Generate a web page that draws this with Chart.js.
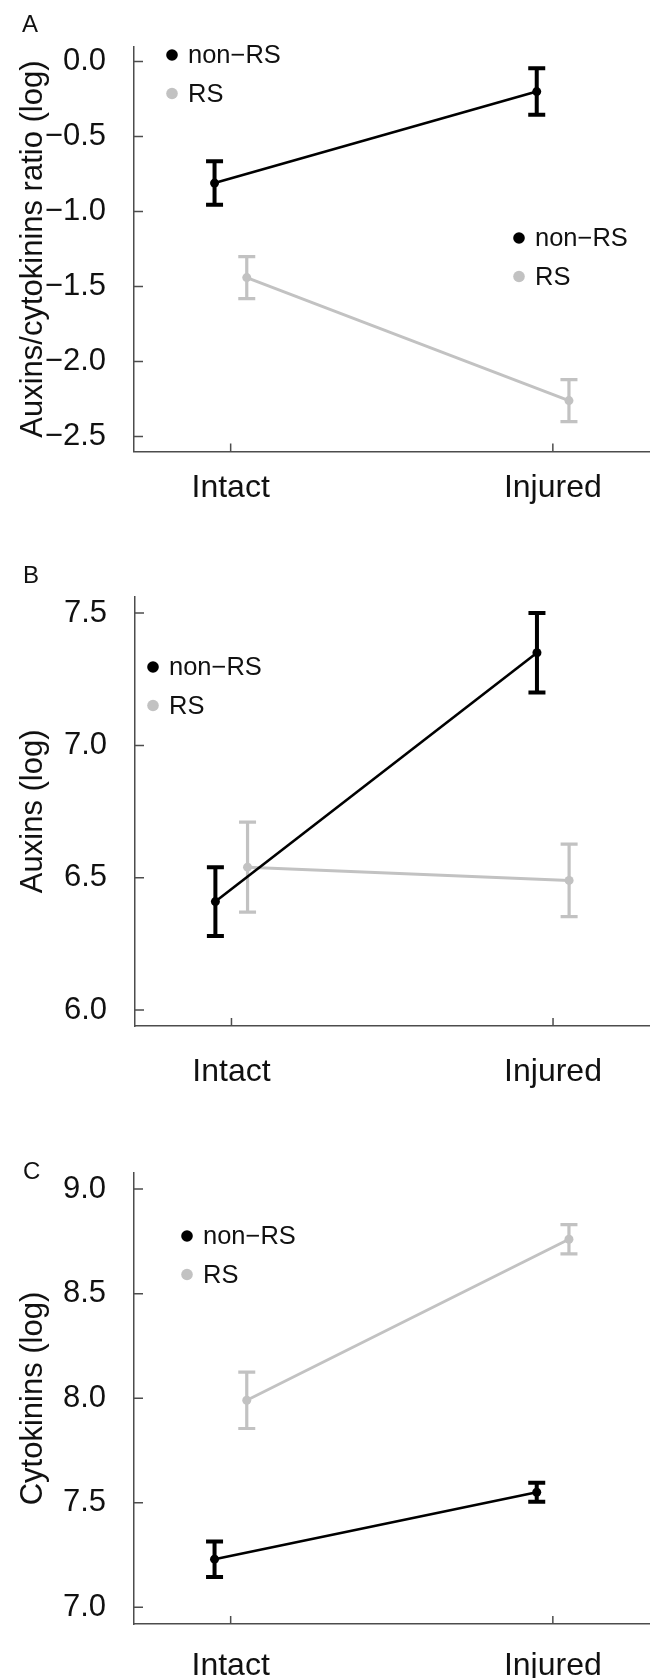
<!DOCTYPE html>
<html>
<head>
<meta charset="utf-8">
<script src="https://cdn.jsdelivr.net/npm/chart.js@4.4.1/dist/chart.umd.min.js"></script>
<style>
  html, body { margin: 0; padding: 0; background: #fff; }
  #wrap { position: relative; width: 654px; height: 1678px; overflow: hidden; font-family: "Liberation Sans", Arial, sans-serif; }
  .panel { position: absolute; left: 0; width: 654px; }
  .tag { position: absolute; font-size: 24px; line-height: 24px; color: #111; }
</style>
</head>
<body>
<div id="wrap">
  <div class="panel" style="top:0;height:550px"><canvas id="chartA" width="654" height="550"></canvas></div>
  <div class="panel" style="top:550px;height:560px"><canvas id="chartB" width="654" height="560"></canvas></div>
  <div class="panel" style="top:1110px;height:568px"><canvas id="chartC" width="654" height="568"></canvas></div>
  <div class="tag" style="left:22px;top:12px">A</div>
  <div class="tag" style="left:23px;top:563px">B</div>
  <div class="tag" style="left:23px;top:1159px">C</div>
</div>
<script>
// categories and group names
const categories = ['Intact', 'Injured'];
const groups = ['non\u2212RS', 'RS'];

// A: auxins/cytokinins ratio (log), mean and error
const ratioNonRS = [-0.81, -0.20];
const ratioNonRSErr = [0.145, 0.155];
const ratioRS = [-1.44, -2.26];
const ratioRSErr = [0.14, 0.14];
const ratioTicks = [0, -0.5, -1, -1.5, -2, -2.5];

// B: auxins (log)
const auxNonRS = [6.41, 7.35];
const auxNonRSErr = [0.13, 0.15];
const auxRS = [6.54, 6.49];
const auxRSErr = [0.17, 0.137];
const auxTicks = [6, 6.5, 7, 7.5];

// C: cytokinins (log)
const cytNonRS = [7.23, 7.55];
const cytNonRSErr = [0.085, 0.045];
const cytRS = [7.99, 8.76];
const cytRSErr = [0.135, 0.07];
const cytTicks = [7, 7.5, 8, 8.5, 9];

const BLACK = '#000000';
const GREY = '#c2c2c2';
const AXIS = '#4d4d4d';
const dodge = 0.05;

Chart.defaults.font.family = '"Liberation Sans", Arial, sans-serif';
Chart.defaults.color = '#111';

function toPoints(values, shift) {
  return values.map((v, i) => ({ x: i + 1 + shift, y: v }));
}

function fmt(v) {
  return v.toFixed(1).replace('-', '\u2212');
}

// error bars, inward ticks and the dot legends
function decorations(legends) {
  return {
    id: 'decorations',
    beforeDatasetsDraw(chart) {
      const { ctx, scales: { x, y } } = chart;
      ctx.save();
      chart.data.datasets.forEach(ds => {
        ctx.strokeStyle = ds.borderColor;
        ctx.lineWidth = ds.barWidth;
        ds.data.forEach((p, j) => {
          const px = x.getPixelForValue(p.x);
          const top = y.getPixelForValue(p.y + ds.errors[j]);
          const bot = y.getPixelForValue(p.y - ds.errors[j]);
          ctx.beginPath();
          ctx.moveTo(px, top); ctx.lineTo(px, bot);
          ctx.moveTo(px - 8.5, top); ctx.lineTo(px + 8.5, top);
          ctx.moveTo(px - 8.5, bot); ctx.lineTo(px + 8.5, bot);
          ctx.stroke();
        });
      });
      ctx.restore();
    },
    afterDraw(chart) {
      const { ctx, chartArea, scales: { x, y } } = chart;
      ctx.save();
      ctx.strokeStyle = AXIS;
      ctx.lineWidth = 1.5;
      ctx.beginPath();
      y.ticks.forEach(t => {
        const py = y.getPixelForValue(t.value);
        ctx.moveTo(chartArea.left, py); ctx.lineTo(chartArea.left + 9, py);
      });
      x.ticks.forEach(t => {
        const px = x.getPixelForValue(t.value);
        ctx.moveTo(px, chartArea.bottom); ctx.lineTo(px, chartArea.bottom - 8);
      });
      ctx.stroke();

      ctx.font = '25.5px "Liberation Sans", Arial, sans-serif';
      ctx.textBaseline = 'middle';
      ctx.textAlign = 'left';
      legends.forEach(lg => {
        chart.data.datasets.forEach((ds, i) => {
          const cy = lg.y + i * 38.5;
          ctx.fillStyle = ds.borderColor;
          ctx.beginPath();
          ctx.arc(lg.x, cy, 5.8, 0, Math.PI * 2);
          ctx.fill();
          ctx.fillStyle = '#111';
          ctx.fillText(ds.label, lg.x + 16, cy + 1);
        });
      });
      ctx.restore();
    }
  };
}

function makePanel(id, p) {
  return new Chart(document.getElementById(id), {
    type: 'line',
    data: {
      datasets: [{
        label: groups[0],
        data: toPoints(p.nonRS, -dodge),
        errors: p.nonRSErr,
        borderColor: BLACK,
        backgroundColor: BLACK,
        borderWidth: 2.6,
        barWidth: 4,
        pointRadius: 4.5,
        pointBorderWidth: 0
      }, {
        label: groups[1],
        data: toPoints(p.rs, dodge),
        errors: p.rsErr,
        borderColor: GREY,
        backgroundColor: GREY,
        borderWidth: 3,
        barWidth: 3.2,
        pointRadius: 4.5,
        pointBorderWidth: 0
      }]
    },
    options: {
      responsive: false,
      animation: false,
      layout: { padding: { top: p.top, right: 3, left: 0, bottom: 0 } },
      plugins: {
        legend: { display: false },
        tooltip: { enabled: false }
      },
      scales: {
        x: {
          type: 'linear',
          min: 0.7,
          max: 2.3,
          afterBuildTicks: s => { s.ticks = categories.map((c, i) => ({ value: i + 1 })); },
          afterFit: s => { s.height = p.xHeight; },
          grid: { display: true, drawOnChartArea: false, drawTicks: false },
          border: { color: AXIS, width: 1.5 },
          ticks: {
            padding: p.xPad,
            autoSkip: false,
            maxRotation: 0,
            font: { size: 32 },
            callback: v => categories[v - 1]
          }
        },
        y: {
          min: p.min,
          max: p.max,
          afterBuildTicks: s => { s.ticks = p.ticks.map(v => ({ value: v })); },
          afterFit: s => { s.width = p.yWidth; },
          grid: { display: true, drawOnChartArea: false, drawTicks: false },
          border: { color: AXIS, width: 1.5 },
          ticks: { padding: 28, font: { size: 31 }, callback: v => fmt(v) },
          title: {
            display: true,
            text: p.title,
            font: { size: 31 },
            padding: { top: 15, bottom: 0 }
          }
        }
      }
    },
    plugins: [decorations(p.legends)]
  });
}

makePanel('chartA', {
  nonRS: ratioNonRS, nonRSErr: ratioNonRSErr, rs: ratioRS, rsErr: ratioRSErr,
  ticks: ratioTicks, min: -2.6, max: 0.1,
  title: 'Auxins/cytokinins ratio (log)',
  top: 28, xHeight: 98.4, yWidth: 134, xPad: 17.5,
  legends: [{ x: 172, y: 55 }, { x: 519, y: 238 }]
});

makePanel('chartB', {
  nonRS: auxNonRS, nonRSErr: auxNonRSErr, rs: auxRS, rsErr: auxRSErr,
  ticks: auxTicks, min: 5.94, max: 7.562,
  title: 'Auxins (log)',
  top: 33, xHeight: 84, yWidth: 135, xPad: 27,
  legends: [{ x: 153, y: 117 }]
});

makePanel('chartC', {
  nonRS: cytNonRS, nonRSErr: cytNonRSErr, rs: cytRS, rsErr: cytRSErr,
  ticks: cytTicks, min: 6.92, max: 9.077,
  title: 'Cytokinins (log)',
  top: 63, xHeight: 54, yWidth: 134, xPad: 23,
  legends: [{ x: 187, y: 126 }]
});
</script>
</body>
</html>
